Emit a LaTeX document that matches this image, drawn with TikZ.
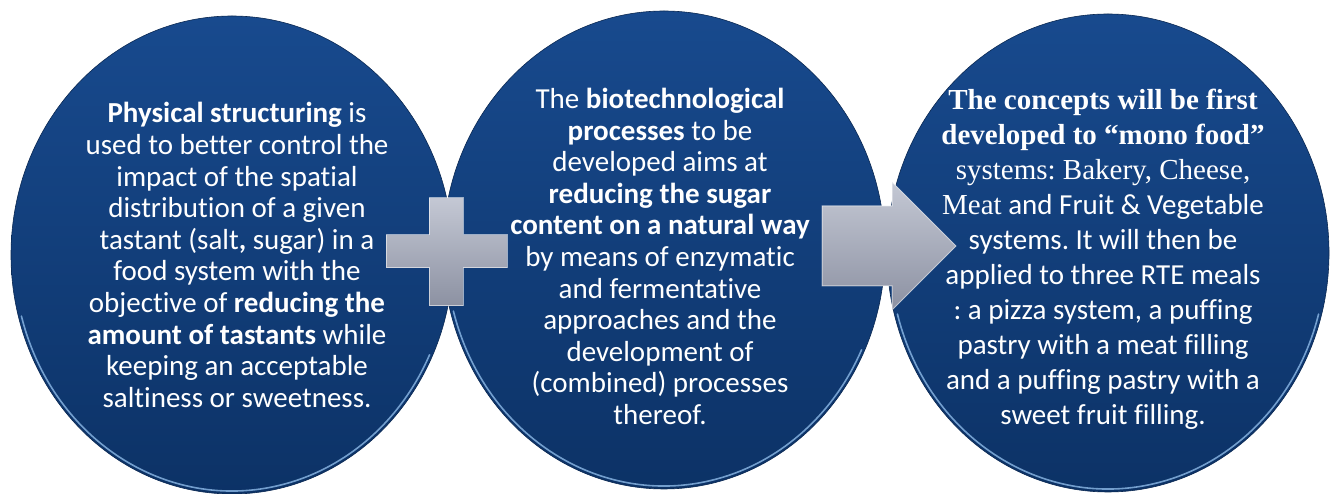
\documentclass[tikz,border=0pt]{standalone}
\usepackage{fontspec}
\setmainfont[Ligatures={NoCommon}]{Carlito}
\newfontfamily\tnr[Ligatures={NoCommon}]{Liberation Serif}
\usetikzlibrary{shapes.geometric,calc}
\frenchspacing
\definecolor{bluetop}{RGB}{24,74,142}
\definecolor{bluemid}{RGB}{18,62,124}
\definecolor{bluebot}{RGB}{12,50,102}
\definecolor{rimblue}{RGB}{150,195,240}
\definecolor{greytop}{RGB}{196,200,212}
\definecolor{greybot}{RGB}{140,145,162}
\tikzset{
  bubble/.style={ellipse, minimum width=442pt, minimum height=478pt, inner sep=0pt,
    top color=bluetop, middle color=bluemid, bottom color=bluebot,
    draw=bluebot!80!black, line width=0.6pt},
  rim/.style={rimblue, line width=1.6pt, opacity=0.75, line cap=round},
  txt/.style={text=white, align=center, inner sep=0pt,
    font=\fontsize{29}{31.6}\selectfont},
  metal/.style={top color=greytop, bottom color=greybot,
    draw=white, draw opacity=0.55, line width=1pt, line join=miter}
}
\begin{document}
\begin{tikzpicture}[x=1pt,y=1pt]
  \fill[white] (0,0) rectangle (1335,494);
  \useasboundingbox (0,0) rectangle (1335,494);

  % the three discs
  \node[bubble] (c1) at (232,239) {};
  \draw[rim] ($(c1.center)+(195:218pt and 236pt)$) arc[start angle=195, end angle=335, x radius=218pt, y radius=236pt];
  \node[bubble] (c2) at (664,244) {};
  \draw[rim] ($(c2.center)+(195:218pt and 236pt)$) arc[start angle=195, end angle=335, x radius=218pt, y radius=236pt];
  \node[bubble] (c3) at (1108,241) {};
  \draw[rim] ($(c3.center)+(195:218pt and 236pt)$) arc[start angle=195, end angle=345, x radius=218pt, y radius=236pt];

  % plus sign between the first two discs
  \path[metal] (429,296) -- (463,296) -- (463,259) -- (507,259) -- (507,226) -- (463,226)
    -- (463,188) -- (429,188) -- (429,226) -- (386,226) -- (386,259) -- (429,259) -- cycle;

  % arrow between the last two discs
  \path[metal] (822,288) -- (892,288) -- (892,312) -- (956,248) -- (892,184) -- (892,208)
    -- (822,208) -- cycle;

  % texts
  \node[txt] (t1) at (237,239) {\textbf{Physical structuring} is\\
    used to better control the\\
    impact of the spatial\\
    distribution of a given\\
    tastant (salt\textbf{,} sugar) in a\\
    food system with the\\
    objective of \textbf{reducing the}\\
    \textbf{amount of tastants} while\\
    keeping an acceptable\\
    saltiness or sweetness.};

  \node[txt] (t2) at (660,237.5) {The \textbf{biotechnological}\\
    \textbf{processes} to be\\
    developed aims at\\
    \textbf{reducing the sugar}\\
    \textbf{content on a natural way}\\
    by means of enzymatic\\
    and fermentative\\
    approaches and the\\
    development of\\
    (combined) processes\\
    thereof.};

  \node[txt, font=\fontsize{29}{35}\selectfont] (t3) at (1103,234.5) {{\tnr\bfseries The concepts will be first}\\
    {\tnr\bfseries developed to “mono food”}\\
    {\tnr systems: Bakery, Cheese,}\\
    {\tnr Meat} and Fruit \& Vegetable\\
    systems. It will then be\\
    applied to three RTE meals\\
    : a pizza system, a puffing\\
    pastry with a meat filling\\
    and a puffing pastry with a\\
    sweet fruit filling.};
\end{tikzpicture}
\end{document}
